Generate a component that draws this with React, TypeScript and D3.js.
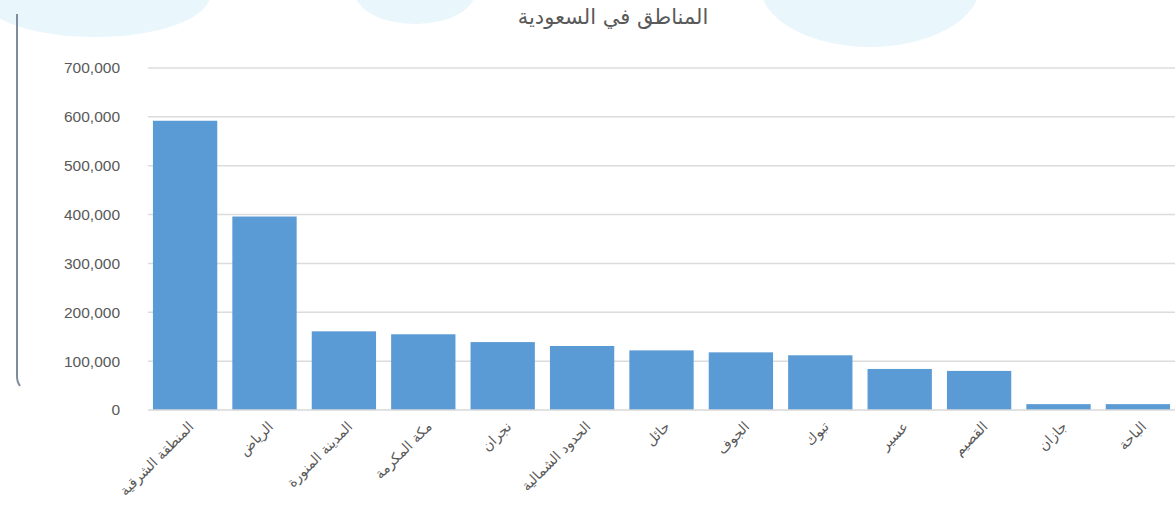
import { useMemo } from "react";
import * as d3 from "d3";

const regions = [
  "المنطقة الشرقية",
  "الرياض",
  "المدينة المنورة",
  "مكة المكرمة",
  "نجران",
  "الحدود الشمالية",
  "حائل",
  "الجوف",
  "تبوك",
  "عسير",
  "القصيم",
  "جازان",
  "الباحة",
];
const values = [592000, 396000, 161000, 155000, 139000, 131000, 122000, 118000, 112000, 84000, 80000, 12000, 12000];
const yTicks = [0, 100000, 200000, 300000, 400000, 500000, 600000, 700000];
const title = "المناطق في السعودية";

const W = 1175;
const H = 521;
const M = { left: 145, right: 1178, top: 68, bottom: 410 };

export default function App() {
  const x = useMemo(
    () => d3.scaleBand<string>().domain(regions).range([M.left, M.right]).paddingInner(0.19).paddingOuter(0.1),
    []
  );
  const y = useMemo(() => d3.scaleLinear().domain([0, 700000]).range([M.bottom, M.top]), []);
  const fmt = d3.format(",");

  return (
    <svg
      width={W}
      height={H}
      style={{ position: "absolute", left: 0, top: 0, background: "#fff" }}
    >
      {/* faint background blobs */}
      <ellipse cx={95} cy={-5} rx={115} ry={42} fill="#e9f6fc" />
      <ellipse cx={415} cy={-8} rx={60} ry={32} fill="#e9f6fc" />
      <ellipse cx={870} cy={-15} rx={110} ry={62} fill="#e9f6fc" />
      <path d="M17,14 L17,376 Q17,382 20,386" fill="none" stroke="#7f8c9c" strokeWidth={2} />

      <text
        x={613}
        y={24}
        textAnchor="middle"
        fontFamily="DejaVu Sans"
        fontSize={21}
        fill="#595959"
      >
        {title}
      </text>

      {yTicks.map(t => (
        <g key={t}>
          {t > 0 && (
            <line x1={M.left + 3} x2={W} y1={y(t)} y2={y(t)} stroke="#dcdcdc" strokeWidth={1.5} />
          )}
          <text
            x={120}
            y={y(t)}
            dy="0.35em"
            textAnchor="end"
            fontFamily="Liberation Sans"
            fontSize={15.5}
            fill="#595959"
          >
            {fmt(t)}
          </text>
        </g>
      ))}

      {regions.map((r, i) => (
        <rect
          key={r}
          x={x(r)}
          y={y(values[i])}
          width={x.bandwidth()}
          height={y(0) - y(values[i])}
          fill="#5b9bd5"
        />
      ))}
      <line x1={M.left + 3} x2={W} y1={y(0)} y2={y(0)} stroke="#d9d9d9" strokeWidth={1.5} />

      {regions.map(r => {
        const cx = (x(r) ?? 0) + x.bandwidth() / 2 + 6;
        return (
          <text
            key={r}
            transform={`translate(${cx},${424}) rotate(-45)`}
            textAnchor="end"
            dy="0.35em"
            fontFamily="DejaVu Sans"
            fontSize={14}
            fill="#595959"
          >
            {r}
          </text>
        );
      })}
    </svg>
  );
}
